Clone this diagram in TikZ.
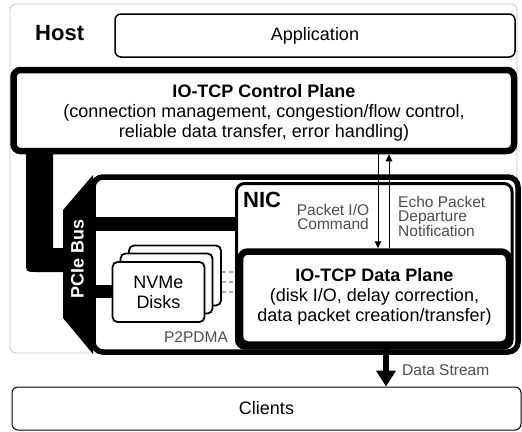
\documentclass[tikz,border=0pt]{standalone}
\usepackage{fontspec}
\setmainfont{Liberation Sans}
\usetikzlibrary{arrows.meta,calc}
\definecolor{labgray}{HTML}{4D4D4D}
\definecolor{hostgray}{HTML}{C4C4C4}
\definecolor{dashgray}{HTML}{ABABAB}
\newcommand\fmain{\fontsize{18}{20}\selectfont}
\newcommand\fbig{\fontsize{22}{24}\selectfont}
\newcommand\flab{\fontsize{15.5}{14.5}\selectfont}
\begin{document}
\begin{tikzpicture}[x=1pt,y=-1pt,
  box/.style={draw, fill=white, inner sep=0pt, align=center, font=\fmain},
  thinbox/.style={box, line width=1.5pt, rounded corners=6pt},
  thickbox/.style={box, line width=6.5pt, rounded corners=7pt},
  disk/.style={box, line width=1.8pt, rounded corners=5pt, minimum width=92pt, minimum height=60pt},
  lab/.style={text=labgray, font=\flab, inner sep=0pt},
  txt/.style={inner sep=0pt, align=center, font=\fmain},
  bus/.style={fill=black},
  thinarrow/.style={draw, line width=1pt, -{Triangle[length=7pt,width=6.5pt]}},
  dashline/.style={draw=dashgray, line width=1.3pt, dash pattern=on 4pt off 3.5pt}
]
\useasboundingbox (0,0) rectangle (522,431);

% Host
\node[draw=hostgray, line width=0.8pt, rounded corners=6pt, fill=white,
  minimum width=507pt, minimum height=349pt] (host) at (263.5,178.5) {};
\node[font=\bfseries\fbig, anchor=west, inner sep=0pt] (hostlbl) at (35,33.5) {Host};

% Application
\node[thinbox, minimum width=400pt, minimum height=43pt] (app) at (315,35.5) {Application};

% PCIe connector from control plane
\fill[bus] (26,150) -- (53,150) -- (53,248) -- (66,248) -- (66,272) -- (36,272)
  .. controls (26,272) .. (26,262) -- cycle;

% Control plane
\node[thickbox, minimum width=500.5pt, minimum height=81pt] (ctrl) at (263.75,110.5) {};
\node[txt] (ctrltxt) at (264,113)
  {\textbf{IO-TCP Control Plane}\\(connection management, congestion/flow control,\\reliable data transfer, error handling)};

% Board
\node[draw, fill=white, line width=5.5pt, rounded corners=10pt,
  minimum width=425pt, minimum height=175pt] (board) at (305.5,264.5) {};

% PCIe strip
\fill[bus] (63,210) -- (93,175) -- (93,354) -- (63,318) -- cycle;
\node[rotate=90, text=white, font=\bfseries\fmain, inner sep=0pt] (pcie) at (77.5,259) {PCIe Bus};

% bus bars
\fill[bus] (93,217) rectangle (237,231);
\fill[bus] (93,285) rectangle (113,298);

% NIC
\node[draw, fill=white, line width=3pt, rounded corners=8pt,
  minimum width=275.5pt, minimum height=164.5pt] (nic) at (374.25,265.75) {};
\node[font=\bfseries\fbig, anchor=west, inner sep=0pt] (niclbl) at (243,200) {NIC};

% Data plane
\node[thickbox, rounded corners=8pt, minimum width=269pt, minimum height=93pt] (data) at (374.5,298) {};
\node[txt] (datatxt) at (374.5,297)
  {\textbf{IO-TCP Data Plane}\\(disk I/O, delay correction,\\data packet creation/transfer)};

% NVMe disks
\node[disk] (d3) at (175,275.5) {};
\node[disk] (d2) at (166.5,283.5) {};
\node[disk] (d1) at (158.5,292) {NVMe\\Disks};

% dashed P2PDMA lines
\draw[dashline] (d3.east |- 0,272) -- (data.west |- 0,272);
\draw[dashline] (d3.east |- 0,282) -- (data.west |- 0,282);
\draw[dashline] (d3.east |- 0,292) -- (data.west |- 0,292);
\node[lab] (p2p) at (196,337) {P2PDMA};

% control arrows
\coordinate (xd) at (378,0);
\coordinate (xu) at (389,0);
\draw[thinarrow] (ctrl.south -| xd) -- (data.north -| xd);
\draw[thinarrow] (data.north -| xu) -- (ctrl.south -| xu);
\node[lab, align=center] (pio) at (333,217) {Packet I/O\\Command};
\node[lab, align=left, anchor=west] (echo) at (398,216) {Echo Packet\\Departure\\Notification};

% Clients
\node[box, line width=1pt, rounded corners=6pt, minimum width=509pt, minimum height=43pt] (clients) at (266.5,408.5) {Clients};

% Data stream
\coordinate (xs) at (386,0);
\draw[line width=5.5pt, -{Triangle[length=16pt,width=19pt]}] (data.south -| xs) -- (clients.north -| xs);
\node[lab, anchor=west] (dslbl) at (402,370) {Data Stream};
\end{tikzpicture}
\end{document}
